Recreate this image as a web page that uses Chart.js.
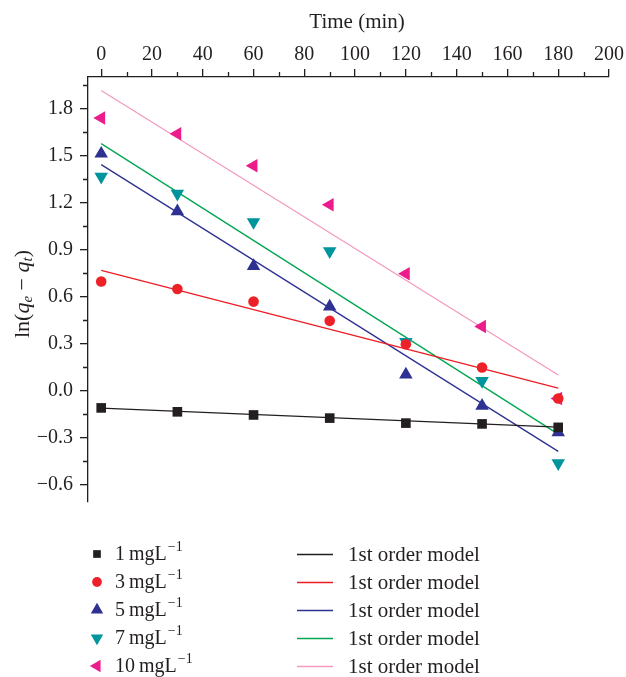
<!DOCTYPE html>
<html>
<head>
<meta charset="utf-8">
<script src="https://cdn.jsdelivr.net/npm/chart.js@4"></script>
<style>
html, body { margin: 0; padding: 0; background: #fff; }
#wrap { width: 626px; height: 677px; }
</style>
</head>
<body>
<div id="wrap"><canvas id="chart" width="626" height="677"></canvas></div>
<script>
// --- DATA ---
const times = [0, 30, 60, 90, 120, 150, 180];
const conc1 = [-0.110, -0.135, -0.155, -0.175, -0.207, -0.212, -0.234];
const conc3 = [0.696, 0.648, 0.568, 0.445, 0.296, 0.148, -0.050];
const conc5 = [1.511, 1.143, 0.795, 0.536, 0.103, -0.097, -0.266];
const conc7 = [1.364, 1.256, 1.075, 0.889, 0.311, 0.062, -0.462];
const conc10 = [1.738, 1.638, 1.434, 1.186, 0.746, 0.409, -0.050];

// 1st order model fits (end points)
const fitTimes = [0, 180];
const fit1 = [-0.112, -0.232];
const fit3 = [0.767, 0.016];
const fit5 = [1.441, -0.387];
const fit7 = [1.575, -0.277];
const fit10 = [1.914, 0.100];

const seriesNames = ["1", "3", "5", "7", "10"];
const fitName = "1st order model";

const xTicks = [0, 20, 40, 60, 80, 100, 120, 140, 160, 180, 200];
const xMinor = [10, 30, 50, 70, 90, 110, 130, 150, 170, 190];
const yTicks = [-0.6, -0.3, 0.0, 0.3, 0.6, 0.9, 1.2, 1.5, 1.8];
const yMinor = [-0.45, -0.15, 0.15, 0.45, 0.75, 1.05, 1.35, 1.65, 1.95];

const INK = "#231f20";
const SERIF = "'Liberation Serif', 'DejaVu Serif', serif";

const pts = (xs, ys) => xs.map((x, i) => ({ x: x, y: ys[i] }));

const markerStyles = [
    { color: "#231f20", style: "rect", radius: 6.8, rotation: 0 },
    { color: "#ed2128", style: "circle", radius: 5.3, rotation: 0 },
    { color: "#2e3192", style: "triangle", radius: 7.8, rotation: 0 },
    { color: "#00959c", style: "triangle", radius: 7.8, rotation: 180 },
    { color: "#ec1c8c", style: "triangle", radius: 7.8, rotation: -90 }
];
const lineColors = ["#231f20", "#ed1c24", "#2e3192", "#00a651", "#f49ac1"];

const measured = [conc1, conc3, conc5, conc7, conc10];
const fits = [fit1, fit3, fit5, fit7, fit10];

const datasets = [];
fits.forEach((f, i) => {
    datasets.push({
        label: fitName,
        data: pts(fitTimes, f),
        showLine: true,
        borderColor: lineColors[i],
        borderWidth: 1.3,
        pointRadius: 0,
        order: 2
    });
});
measured.forEach((m, i) => {
    const s = markerStyles[i];
    datasets.push({
        label: seriesNames[i] + " mgL",
        data: pts(times, m),
        showLine: false,
        pointStyle: s.style,
        pointRadius: s.radius,
        pointRotation: s.rotation,
        pointBackgroundColor: s.color,
        pointBorderColor: s.color,
        pointBorderWidth: 0,
        order: 1
    });
});

// --- extras: minor ticks, axis titles, legend ---
const extrasPlugin = {
    id: "extras",
    afterDraw(chart) {
        const ctx = chart.ctx;
        const xs = chart.scales.x, ys = chart.scales.y;
        const area = chart.chartArea;

        // minor ticks
        ctx.save();
        ctx.strokeStyle = INK;
        ctx.lineWidth = 1.3;
        ctx.beginPath();
        xMinor.forEach(v => {
            const px = Math.round(xs.getPixelForValue(v)) + 0.5;
            ctx.moveTo(px, area.top);
            ctx.lineTo(px, area.top - 5);
        });
        yMinor.forEach(v => {
            const py = Math.round(ys.getPixelForValue(v)) + 0.5;
            ctx.moveTo(area.left, py);
            ctx.lineTo(area.left - 5, py);
        });
        ctx.stroke();
        ctx.restore();

        // x title, centred over the 0-200 span
        ctx.save();
        ctx.fillStyle = INK;
        ctx.font = "21px " + SERIF;
        ctx.textAlign = "center";
        ctx.textBaseline = "middle";
        ctx.fillText("Time (min)", xs.getPixelForValue(100) + 2, 22);
        ctx.restore();

        // y title: ln(q_e − q_t)
        const parts = [
            ["ln(", "22px", "normal", 0],
            ["q", "22px", "italic", 0],
            ["e", "15px", "italic", 5],
            [" \u2212 ", "22px", "normal", 0],
            ["q", "22px", "italic", 0],
            ["t", "15px", "italic", 5],
            [")", "22px", "normal", 0]
        ];
        ctx.save();
        ctx.translate(23, 294);
        ctx.rotate(-Math.PI / 2);
        ctx.fillStyle = INK;
        ctx.textBaseline = "middle";
        let total = 0;
        parts.forEach(p => {
            ctx.font = p[2] + " " + p[1] + " " + SERIF;
            total += ctx.measureText(p[0]).width;
        });
        let cx = -total / 2;
        parts.forEach(p => {
            ctx.font = p[2] + " " + p[1] + " " + SERIF;
            ctx.fillText(p[0], cx, p[3]);
            cx += ctx.measureText(p[0]).width;
        });
        ctx.restore();

        // legend (two columns)
        const rowY = [554, 582, 610, 638, 666];
        ctx.save();
        ctx.textBaseline = "middle";
        measured.forEach((m, i) => {
            const s = markerStyles[i];
            const y = rowY[i];
            ctx.fillStyle = s.color;
            ctx.strokeStyle = s.color;
            Chart.helpers.drawPoint(ctx, {
                pointStyle: s.style,
                radius: s.style === "rect" ? s.radius * 0.8 : s.radius * 0.92,
                rotation: s.rotation,
                borderWidth: 0
            }, 97, y);

            ctx.fillStyle = INK;
            ctx.font = "20px " + SERIF;
            const main = seriesNames[i] + "\u2009mgL";
            ctx.fillText(main, 115, y + 1);
            const w = ctx.measureText(main).width;
            ctx.font = "14px " + SERIF;
            ctx.fillText("\u22121", 115 + w + 1, y - 7);

            // model line
            ctx.strokeStyle = lineColors[i];
            ctx.lineWidth = 1.3;
            ctx.beginPath();
            ctx.moveTo(297, y + 0.5);
            ctx.lineTo(333, y + 0.5);
            ctx.stroke();
            ctx.fillStyle = INK;
            ctx.font = "21px " + SERIF;
            ctx.fillText(fitName, 348, y + 1);
        });
        ctx.restore();
    }
};

new Chart(document.getElementById("chart"), {
    type: "scatter",
    data: { datasets: datasets },
    plugins: [extrasPlugin],
    options: {
        responsive: false,
        animation: false,
        layout: { padding: { left: 0, top: 0, right: 16, bottom: 175 } },
        plugins: {
            legend: { display: false },
            tooltip: { enabled: false }
        },
        scales: {
            x: {
                type: "linear",
                position: "top",
                min: -5.2,
                max: 200,
                afterBuildTicks: s => { s.ticks = xTicks.map(v => ({ value: v })); },
                afterFit: s => { s.height = 77; },
                border: { color: INK, width: 1.3 },
                grid: { drawOnChartArea: false, drawTicks: true, tickLength: 8, color: INK, lineWidth: 1.3 },
                ticks: {
                    color: INK,
                    font: { family: SERIF, size: 20 },
                    padding: 2,
                    maxRotation: 0,
                    autoSkip: false
                }
            },
            y: {
                type: "linear",
                position: "left",
                min: -0.71,
                max: 2.0,
                afterBuildTicks: s => { s.ticks = yTicks.map(v => ({ value: v })); },
                afterFit: s => { s.width = 88; },
                border: { color: INK, width: 1.3 },
                grid: { drawOnChartArea: false, drawTicks: true, tickLength: 8, color: INK, lineWidth: 1.3 },
                ticks: {
                    color: INK,
                    font: { family: SERIF, size: 20 },
                    padding: 7,
                    autoSkip: false,
                    callback: v => v.toFixed(1).replace("-", "\u2212")
                }
            }
        }
    }
});
</script>
</body>
</html>
